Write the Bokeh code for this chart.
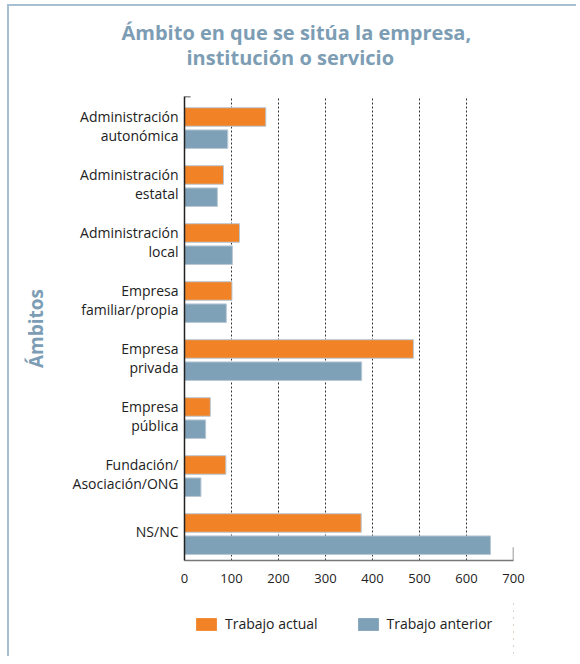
from bokeh.plotting import figure
from bokeh.layouts import column
from bokeh.models import (FactorRange, Range1d, Title, Legend, LegendItem,
                          FixedTicker, Arrow, ColumnDataSource)
from bokeh.transform import dodge
from bokeh.embed import file_html
from bokeh.resources import INLINE

# ---- data ----
categories = ["Administración\nautonómica", "Administración\nestatal",
              "Administración\nlocal", "Empresa\nfamiliar/propia",
              "Empresa\nprivada", "Empresa\npública",
              "Fundación/\nAsociación/ONG", "NS/NC"]
trabajo_actual = [173, 83, 117, 101, 487, 55, 88, 376]
trabajo_anterior = [92, 70, 102, 89, 377, 45, 35, 651]
x_ticks = [0, 100, 200, 300, 400, 500, 600, 700]
grid_ticks = [100, 200, 300, 400, 500, 600]
title_lines = ["Ámbito en que se sitúa la empresa,", "institución o servicio"]
series_names = ["Trabajo actual", "Trabajo anterior"]

ORANGE = "#F18226"
BLUE = "#7FA1B8"
TITLE_C = "#7C9DB4"
FONT = "Open Sans"
EDGE = "#B9C8D4"

src = ColumnDataSource(dict(cat=categories, actual=trabajo_actual,
                            anterior=trabajo_anterior))

p = figure(frame_width=329, frame_height=464, output_backend="svg",
           toolbar_location=None,
           y_range=FactorRange(factors=categories[::-1]),
           x_range=Range1d(0, 700),
           min_border_left=175, min_border_right=63,
           min_border_top=90, min_border_bottom=40)
p.outline_line_color = None
p.background_fill_color = "white"
p.border_fill_color = "white"

p.hbar(y=dodge("cat", 0.147, range=p.y_range), right="actual", left=0,
       height=0.32, source=src, fill_color=ORANGE, line_color=EDGE, line_width=1)
p.hbar(y=dodge("cat", -0.236, range=p.y_range), right="anterior", left=0,
       height=0.32, source=src, fill_color=BLUE, line_color=EDGE, line_width=1)

# titles: spacer (closest to frame), second line, first line
title_style = dict(text_font=FONT, text_font_size="20px", text_font_style="bold",
                   text_color=TITLE_C, align="left")
p.add_layout(Title(text=" ", standoff=1, **title_style), "above")
p.add_layout(Title(text=title_lines[1], offset=2, standoff=-8, **title_style), "above")
p.add_layout(Title(text=title_lines[0], offset=-63, standoff=0, **title_style), "above")

# x axis
xa = p.xaxis[0]
xa.ticker = FixedTicker(ticks=x_ticks)
xa.major_tick_in = 0
xa.major_tick_out = 0
xa.minor_tick_line_color = None
xa.axis_line_color = "#777777"
xa.axis_line_width = 1.5
xa.major_label_text_font = FONT
xa.major_label_text_font_size = "13px"
xa.major_label_text_color = "#222222"
xa.major_label_standoff = 13

# y axis
ya = p.yaxis[0]
ya.major_tick_in = 0
ya.major_tick_out = 0
ya.minor_tick_line_color = None
ya.axis_line_color = "#222222"
ya.axis_line_width = 1.5
ya.major_label_text_font = FONT
ya.major_label_text_font_size = "14px"
ya.major_label_text_line_height = 1.0
ya.major_label_text_color = "#222222"
ya.major_label_text_align = "center"
ya.major_label_standoff = 6
ya.axis_label = "Ámbitos"
ya.axis_label_text_font = FONT
ya.axis_label_text_font_size = "19px"
ya.axis_label_text_font_style = "bold"
ya.axis_label_text_color = TITLE_C
ya.axis_label_standoff = 21

p.ygrid.grid_line_color = None
p.xgrid.ticker = FixedTicker(ticks=grid_ticks)
p.xgrid.grid_line_color = "#333333"
p.xgrid.grid_line_dash = "2 2"
p.xgrid.grid_line_width = 1

# frame end marks
p.add_layout(Arrow(end=None, x_start=700, y_start=0, x_end=700, y_end=0.23,
                   line_color="#777777", line_width=1.5))
p.add_layout(Arrow(end=None, x_start=0, y_start=8, x_end=13, y_end=8,
                   line_color="#222222", line_width=1.5))

# legend strip (separate small figure under the chart); its bars lie outside
# its visible x range, so only the legend shows
lg = figure(width=567, height=56, output_backend="svg", toolbar_location=None,
            x_range=Range1d(-2, -1), y_range=FactorRange(factors=categories[::-1]),
            min_border=0)
lg.axis.visible = False
lg.grid.visible = False
lg.outline_line_color = None
lg.border_fill_color = "white"
l1 = lg.hbar(y="cat", right="actual", left=0, height=0.3, source=src,
             fill_color=ORANGE, line_color=None)
l2 = lg.hbar(y="cat", right="anterior", left=0, height=0.3, source=src,
             fill_color=BLUE, line_color=None)
legend = Legend(items=[LegendItem(label=series_names[0], renderers=[l1]),
                       LegendItem(label=series_names[1], renderers=[l2])],
                orientation="horizontal", location=(9, 23),
                glyph_width=26, glyph_height=16, label_standoff=6, spacing=37,
                label_text_font=FONT, label_text_font_size="14px",
                label_text_color="#222222", border_line_color=None,
                background_fill_alpha=0, margin=0, padding=6)
lg.add_layout(legend, "center")

page = column(p, lg, spacing=0,
              styles={"border-left": "2px solid #A6C0D2",
                      "border-top": "2px solid #A6C0D2",
                      "margin-left": "7px", "margin-top": "4px"})

open("out.html", "w").write(file_html(page, INLINE))
